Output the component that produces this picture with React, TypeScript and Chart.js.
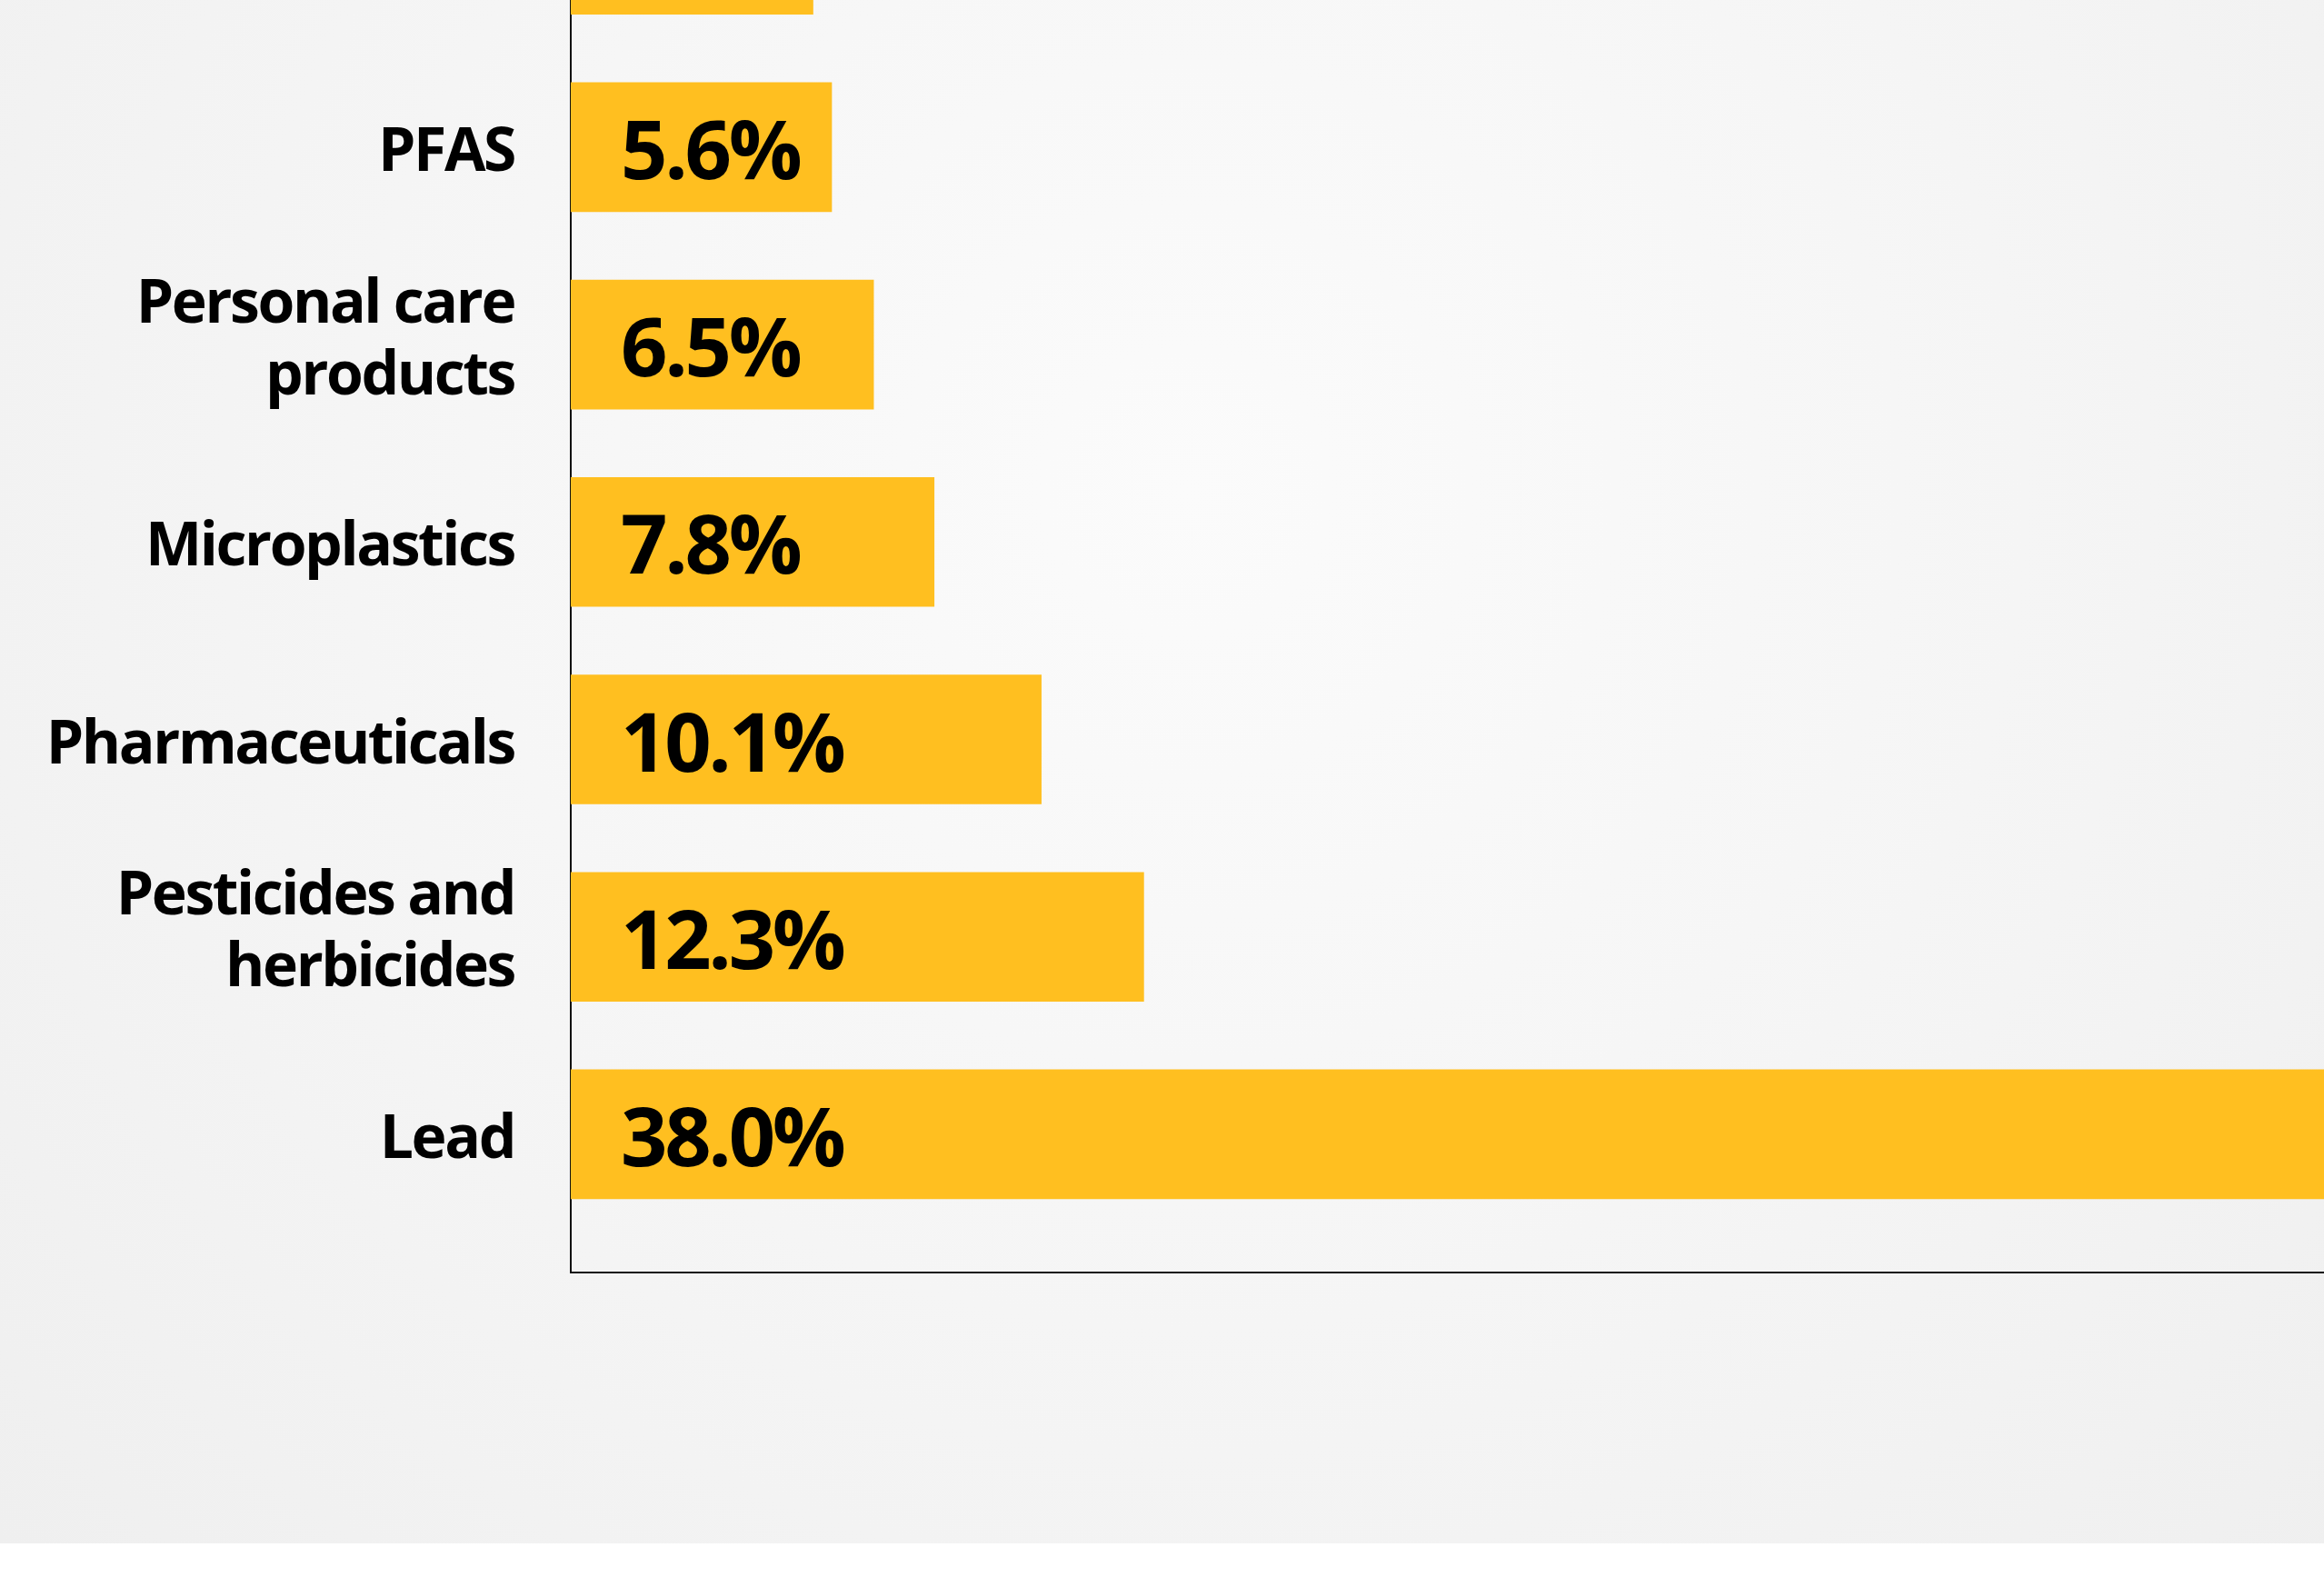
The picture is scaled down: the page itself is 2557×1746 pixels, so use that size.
import React, { useEffect, useRef } from 'react';
import { Chart, registerables } from 'chart.js';

Chart.register(...registerables);

// ---- Data ----
const categories: string[][] = [
  ['Antibiotic-', 'resistant bacteria'],
  ['PFAS'],
  ['Personal care', 'products'],
  ['Microplastics'],
  ['Pharmaceuticals'],
  ['Pesticides and', 'herbicides'],
  ['Lead'],
];
const values: number[] = [5.2, 5.6, 6.5, 7.8, 10.1, 12.3, 38.0];
const xMin = 0;
const xMax = 40;

// ---- Styles ----
const BAR_COLOR = '#ffbf20';
const FONT_FAMILY = "'Open Sans', 'Noto Sans', sans-serif";
const LABEL_SIZE = 66;
const LABEL_LINE = 79;
const VALUE_SIZE = 90;

const textPlugin = {
  id: 'textLabels',
  afterDatasetsDraw(chart: any) {
    const { ctx } = chart;
    const yScale = chart.scales.y;
    const xScale = chart.scales.x;
    const x0 = xScale.getPixelForValue(0);
    ctx.save();
    ctx.fillStyle = '#000';
    ctx.textBaseline = 'alphabetic';

    // category labels, right aligned left of the axis
    ctx.font = `bold ${LABEL_SIZE}px ${FONT_FAMILY}`;
    (ctx as any).letterSpacing = '-2.4px';
    ctx.textAlign = 'right';
    categories.forEach((lines, i) => {
      const cy = yScale.getPixelForValue(i);
      const n = lines.length;
      const base = cy + (n > 1 ? 15 : 26);
      lines.forEach((line, j) => {
        ctx.fillText(line, x0 - 62, base + (j - (n - 1) / 2) * LABEL_LINE);
      });
    });

    // value labels inside bars
    ctx.font = `bold ${VALUE_SIZE}px ${FONT_FAMILY}`;
    (ctx as any).letterSpacing = '-3.3px';
    ctx.textAlign = 'left';
    const meta = chart.getDatasetMeta(0);
    meta.data.forEach((bar: any, i: number) => {
      ctx.fillText(`${values[i].toFixed(1)}%`, x0 + 55, bar.y + 35);
    });
    ctx.restore();
  },
};

export default function App() {
  const canvasRef = useRef<HTMLCanvasElement | null>(null);

  useEffect(() => {
    if (!canvasRef.current) return;
    const chart = new Chart(canvasRef.current, {
      type: 'bar',
      data: {
        labels: categories.map((c) => c.join(' ')),
        datasets: [
          {
            data: values,
            backgroundColor: BAR_COLOR,
            borderWidth: 0,
            barThickness: 142,
          },
        ],
      },
      plugins: [textPlugin],
      options: {
        indexAxis: 'y',
        responsive: false,
        animation: false,
        events: [],
        layout: {
          autoPadding: false,
          padding: { top: 0, bottom: 12, left: 0, right: 0 },
        },
        plugins: {
          legend: { display: false },
          tooltip: { enabled: false },
          title: { display: false },
        },
        scales: {
          x: {
            type: 'linear',
            min: xMin,
            max: xMax,
            grid: { display: false, drawTicks: false },
            ticks: { display: false },
            border: { display: true, color: '#111', width: 2 },
          },
          y: {
            type: 'category',
            offset: true,
            grid: { display: false, drawTicks: false },
            border: { display: true, color: '#111', width: 2 },
            ticks: { display: false },
            afterFit: (axis: any) => {
              axis.width = 628;
            },
            afterBuildTicks: (axis: any) => {
              axis._valueRange = axis.getLabels().length + 0.2;
            },
          },
        },
      } as any,
    });
    return () => chart.destroy();
  }, []);

  return (
    <div
      style={{
        position: 'absolute',
        left: 0,
        top: 0,
        width: 2557,
        height: 1698,
        overflow: 'hidden',
        background:
          'radial-gradient(circle at 1305px 540px, #fbfbfb 0%, #f6f6f6 45%, #efefef 100%)',
      }}
    >
      <div style={{ position: 'absolute', left: 0, top: -164, width: 2678, height: 1576 }}>
        <canvas
          ref={canvasRef}
          width={2678}
          height={1576}
          style={{ width: 2678, height: 1576, display: 'block' }}
        />
      </div>
    </div>
  );
}
